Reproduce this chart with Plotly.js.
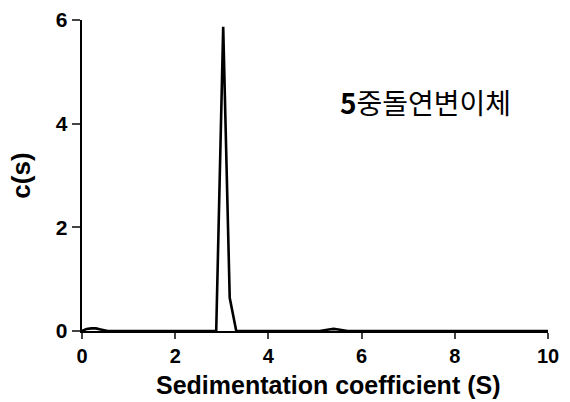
<!DOCTYPE html>
<html><head><meta charset="utf-8">
<script src="https://cdn.plot.ly/plotly-3.0.1.min.js"></script>
<style>body{margin:0}#c{width:570px;height:402px}</style>
</head><body><div id="c"></div>
<script>
const sedimentation = [0, 0.1, 0.2, 0.3, 0.4, 0.55, 1.0, 2.0, 2.85, 2.88, 3.03, 3.17, 3.31, 3.5, 4.5, 5.1, 5.3, 5.4, 5.5, 5.7, 6.5, 8.0, 10.0];
const cs =            [0, 0.04, 0.05, 0.05, 0.03, 0, 0, 0, 0, 0, 5.87, 0.64, 0, 0, 0, 0, 0.03, 0.04, 0.03, 0, 0, 0, 0];
const annotationText = '<b>5</b>중돌연변이체';
const xTitle = 'Sedimentation coefficient (S)';
const yTitle = 'c(s)';

const font = {family: 'Liberation Sans, Arial, sans-serif', color: '#000'};
Plotly.newPlot('c', [{
  x: sedimentation, y: cs, mode: 'lines', type: 'scatter',
  line: {color: '#000', width: 2.6}, hoverinfo: 'skip'
}], {
  width: 570, height: 402,
  margin: {l: 82, r: 22, t: 20, b: 71},
  paper_bgcolor: '#fff', plot_bgcolor: '#fff',
  showlegend: false,
  xaxis: {
    range: [0, 10], tickvals: [0, 2, 4, 6, 8, 10], ticks: 'outside', ticklen: 6, tickwidth: 2.2,
    showline: true, linewidth: 2.4, linecolor: '#000', showgrid: false, zeroline: false,
    tickfont: Object.assign({size: 20, weight: 'bold'}, font),
    automargin: false
  },
  yaxis: {
    range: [0, 6], tickvals: [0, 2, 4, 6], ticks: 'outside', ticklen: 8, tickwidth: 2.2,
    showline: true, linewidth: 2.4, linecolor: '#000', showgrid: false, zeroline: false,
    tickfont: Object.assign({size: 21, weight: 'bold'}, font),
    automargin: false,
    title: {text: '<b>' + yTitle + '</b>', font: Object.assign({size: 26}, font), standoff: 18}
  },
  annotations: [{
    x: 5.5, y: 4.42, xref: 'x', yref: 'y', xanchor: 'left', yanchor: 'middle',
    text: annotationText, showarrow: false,
    font: {family: 'Noto Sans CJK KR, Liberation Sans, sans-serif', size: 28, color: '#000'}
  }, {
    x: 0.528, y: -0.174, xref: 'paper', yref: 'paper', xanchor: 'center', yanchor: 'middle',
    text: '<b>' + xTitle + '</b>', showarrow: false, borderpad: 0,
    font: Object.assign({size: 25}, font)
  }]
}, {displayModeBar: false, staticPlot: true});
</script></body></html>
